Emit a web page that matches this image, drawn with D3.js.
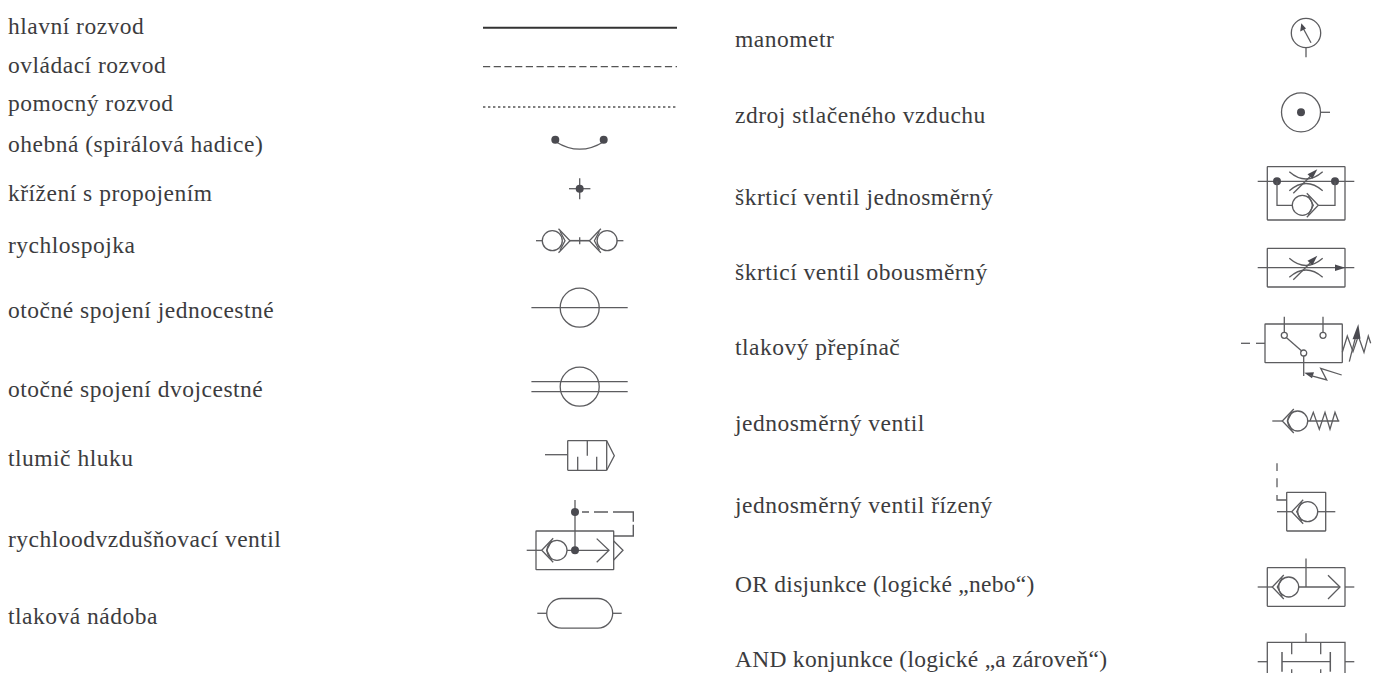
<!DOCTYPE html>
<html><head><meta charset="utf-8">
<script src="https://cdnjs.cloudflare.com/ajax/libs/d3/7.8.5/d3.min.js"></script>
<style>html,body{margin:0;padding:0;background:#fff;overflow:hidden}svg{display:block}</style>
</head><body>
<script>
const leftLabels = ["hlavní rozvod","ovládací rozvod","pomocný rozvod","ohebná (spirálová hadice)","křížení s propojením","rychlospojka","otočné spojení jednocestné","otočné spojení dvojcestné","tlumič hluku","rychloodvzdušňovací ventil","tlaková nádoba"];
const leftBaselines = [34,72.7,111,151.7,200.7,252.7,317.7,396.7,465.7,546.7,623.7];
const leftCenters = [27.7,66.7,107,139.7,188.7,240.7,307.7,386.7,455,550.3,613.3];
const rightLabels = ["manometr","zdroj stlačeného vzduchu","škrticí ventil jednosměrný","škrticí ventil obousměrný","tlakový přepínač","jednosměrný ventil","jednosměrný ventil řízený","OR disjunkce (logické „nebo“)","AND konjunkce (logické „a zároveň“)"];
const rightBaselines = [46.7,123.3,204.5,280,354.6,430.5,513,592.3,667];
const rightCenters = [33,112.3,181.3,267.7,343.3,421,511.7,587,661.7];
const W = 1373, H = 673;
const ys = d3.scaleLinear().domain([0,H]).range([0,H]);
const col = d3.scaleOrdinal().domain(["leftText","leftSym","rightText","rightSym"]).range([8,579.7,735,1306]);
const svg = d3.select("body").append("svg").attr("width",W).attr("height",H);
const INK = "#5c5c5f", DARK="#4a4a50", TXT="#3c3c3e";
function labels(arr,base,x){
  svg.append("g").selectAll("text").data(arr).join("text")
    .attr("x",x).attr("y",(d,i)=>ys(base[i]))
    .attr("font-family","'Liberation Serif',serif").attr("font-size",23.5)
    .attr("letter-spacing",d=>d.includes("„")?0.27:0.5)
    .attr("fill",TXT).text(d=>d);
}
labels(leftLabels,leftBaselines,col("leftText"));
labels(rightLabels,rightBaselines,col("rightText"));
const ln = d3.line();
function sym(side,i){
  const g = svg.append("g").attr("transform",`translate(${col(side)},${ys(side==="leftSym"?leftCenters[i]:rightCenters[i])})`)
    .attr("fill","none").attr("stroke",INK).attr("stroke-width",1.3);
  return {g,
    p(pts,w,dash){const e=g.append("path").attr("d",ln(pts));if(w)e.attr("stroke-width",w);if(dash)e.attr("stroke-dasharray",dash);return e;},
    c(x,y,r){return g.append("circle").attr("cx",x).attr("cy",y).attr("r",r);},
    dot(x,y,r=4){return g.append("circle").attr("cx",x).attr("cy",y).attr("r",r).attr("fill",DARK).attr("stroke","none");},
    tri(pts){return g.append("path").attr("d",ln(pts)+"Z").attr("fill",DARK).attr("stroke","none");},
    box(x0,y0,x1,y1){return g.append("rect").attr("x",x0).attr("y",y0).attr("width",x1-x0).attr("height",y1-y0).attr("rx",0.5);},
    q(x0,y0,cx,cy,x1,y1){const pa=d3.path();pa.moveTo(x0,y0);pa.quadraticCurveTo(cx,cy,x1,y1);return g.append("path").attr("d",pa.toString());},
    check(a,y,dir){
      g.append("path").attr("d",ln([[a+dir*11.5,y-12],[a,y],[a+dir*11.5,y+12]]));
      g.append("path").attr("d",ln([[a+dir*10,y-9.5],[a+dir*5,y],[a+dir*10,y+9.5]]));
    }
  };
}
// left column
{ const s=sym("leftSym",0); s.p([[-96.7,0],[97.3,0]],2).attr("stroke","#333"); }
{ const s=sym("leftSym",1); s.p([[-96.7,0],[97.3,0]],1.2,"7.2 3.5").attr("stroke","#555"); }
{ const s=sym("leftSym",2); s.p([[-96.7,0],[97.3,0]],1.3,"2.4 2.6").attr("stroke","#555"); }
{ const s=sym("leftSym",3); s.q(-24,2,0,17,24,2); s.dot(-24.4,0); s.dot(24,0); }
{ const s=sym("leftSym",4); s.p([[-10.7,0],[10.7,0]]); s.p([[0,-10.5],[0,10.5]]); s.dot(0,0); }
{ const s=sym("leftSym",5);
  s.p([[-43.7,0],[-37,0]]); s.c(-27.4,0,10); s.check(-9.7,0,-1); s.p([[-9.7,0],[9.7,0]],1.6); s.p([[0,-3.5],[0,3.5]]);
  s.check(9.7,0,1); s.c(27.4,0,10); s.p([[37,0],[43.7,0]]); }
{ const s=sym("leftSym",6); s.p([[-48.3,0],[48,0]]); s.c(0,0,19.5); }
{ const s=sym("leftSym",7); s.p([[-48.3,-5],[48,-5]]); s.p([[-48.3,5],[48,5]]); s.c(0,0,19.5); }
{ const s=sym("leftSym",8);
  s.p([[-34.7,-0.3],[-12,-0.3]]); s.box(-12,-14.3,27,15.3); s.p([[7.6,-14.3],[7.6,0.7]]);
  s.p([[-2,1.7],[-2,15.3]]); s.p([[17,1.7],[17,15.3]]); s.p([[27,-14.3],[34.6,0.7],[27,15.3]]); }
{ const s=sym("leftSym",9);
  s.box(-43.7,-19.3,34,19.4);
  s.p([[-53,0],[-38,0]]); s.check(-38,0,1); s.c(-22.7,0,10); s.p([[-12.7,0],[29.3,0]]);
  s.p([[17,-11.7],[29.3,0],[17,12]]);
  s.p([[-4.7,-50.3],[-4.7,0]]); s.dot(-4.7,-38.3); s.dot(-4.7,0);
  s.p([[-4.7,-38.3],[53.6,-38.3],[53.6,-14.3],[34,-14.3]],1.4,"0 7 7 5 14 5 30 3 50 100");
  s.p([[34,-9.3],[43.3,0],[34,9.7]]); }
{ const s=sym("leftSym",10);
  s.g.append("rect").attr("x",-33).attr("y",-14.8).attr("width",66).attr("height",29.6).attr("rx",14.8);
  s.p([[-42.4,0],[-33,0]]); s.p([[33,0],[42,0]]); }
// right column
{ const s=sym("rightSym",0);
  s.c(0,0,14.7); s.p([[0,14.7],[0,24.3]]); s.p([[5,9.7],[-3,-5]]); s.tri([[-4.7,-9.7],[-5.8,-1.5],[0,-4.5]]); }
{ const s=sym("rightSym",1); s.c(-5,0,19.5); s.dot(-5,0); s.p([[14.7,0],[24,0]]); }
function restrictor(s,y){
  s.q(-16.7,y-9.5,0,y+5,16.7,y-9.5); s.q(-16.7,y+9.5,0,y-5,16.7,y+9.5);
  s.p([[-12.7,y+12],[6,y-6.5]]); s.tri([[11.3,y-12],[1.5,y-7],[6.5,y-2.5]]);
}
{ const s=sym("rightSym",2);
  s.box(-38.7,-14.6,39,38.7); s.p([[-48.3,0],[48.3,0]]); s.dot(-29,0); s.dot(29,0);
  restrictor(s,0);
  s.p([[-29,0],[-29,24],[-13.7,24]]); s.c(-3.7,24,10); s.check(12.3,24,-1); s.p([[12.3,24],[29,24],[29,0]]); }
{ const s=sym("rightSym",3);
  s.box(-38.7,-19.4,39,19.3); s.p([[-48.3,0],[48.3,0]]); restrictor(s,0);
  s.tri([[39.3,0],[29,-3.2],[29,3.2]]); }
{ const s=sym("rightSym",4);
  s.box(-41,-19.3,36.3,19.4);
  s.p([[-65,0],[-56,0]]); s.p([[-50,0],[-41,0]]);
  s.p([[-21.7,-26.6],[-21.7,-11]]); s.p([[17,-26.6],[17,-11]]);
  s.c(-21.7,-8,3); s.c(17,-8,3); s.c(-2.3,9.7,3);
  s.p([[-20,-6],[-4,8]]); s.p([[-2.3,12.7],[-2.3,32.7]]);
  s.tri([[-1.8,29.5],[8,29],[6,35]]); s.p([[4,32],[20.7,36.7],[14.7,25],[35.7,31.7]]);
  s.p([[36.3,9],[41.3,-7.3],[47,8.3],[52.3,-7.3],[58,9],[62.3,-7.3],[64.7,0]]);
  s.p([[43.3,18.3],[50,-8]]); s.tri([[52.3,-19.3],[46.5,-4],[54.5,-4.5]]); }
{ const s=sym("rightSym",5);
  s.p([[-33.7,0],[-23.7,0]]); s.check(-23.7,0,1); s.c(-8.3,0,10);
  s.p([[1.7,0],[33.3,0]]);
  s.p([[4,0],[7.3,-8.7],[13.3,8.3],[19,-8.7],[24,8.3],[29,-8.7],[32.3,0]]); }
{ const s=sym("rightSym",6);
  s.box(-19.3,-19.4,19.7,19.3);
  s.p([[-29,-48.4],[-29,-40.7]]); s.p([[-29,-33.4],[-29,-24.4]]); s.p([[-29,-16.7],[-29,-11.7],[-19.3,-11.7]]);
  s.p([[-29,0],[-14.3,0]]); s.check(-14.3,0,1); s.c(1.7,0,10); s.p([[11.7,0],[29.3,0]]); }
{ const s=sym("rightSym",7);
  s.box(-38.7,-19.3,39,19.3); s.p([[-48.3,0],[-33.7,0]]); s.check(-33.7,0,1); s.c(-17.3,0,10);
  s.p([[-7.3,0],[34,0]]); s.p([[22,-11.7],[34,0],[22,12]]); s.p([[0,-28.5],[0,0]]); s.p([[39,0],[48.3,0]]); }
{ const s=sym("rightSym",8);
  s.p([[0,-28.4],[0,-19.4]]);
  s.p([[-38.7,12],[-38.7,-19.4],[39,-19.4],[39,12]]);
  s.p([[-14.3,-19.4],[-14.3,-7.4]]); s.p([[14.7,-19.4],[14.7,-7.4]]);
  s.p([[-24,-9.7],[-24,10]],1.5); s.p([[24.3,-9.7],[24.3,10]],1.5); s.p([[-24,0],[24.3,0]]);
  s.p([[-48.3,0],[-38.7,0]]); s.p([[39,0],[48.3,0]]);
  s.p([[-14.3,7.6],[-14.3,12]]); s.p([[14.7,7.6],[14.7,12]]); }
</script>
</body></html>
